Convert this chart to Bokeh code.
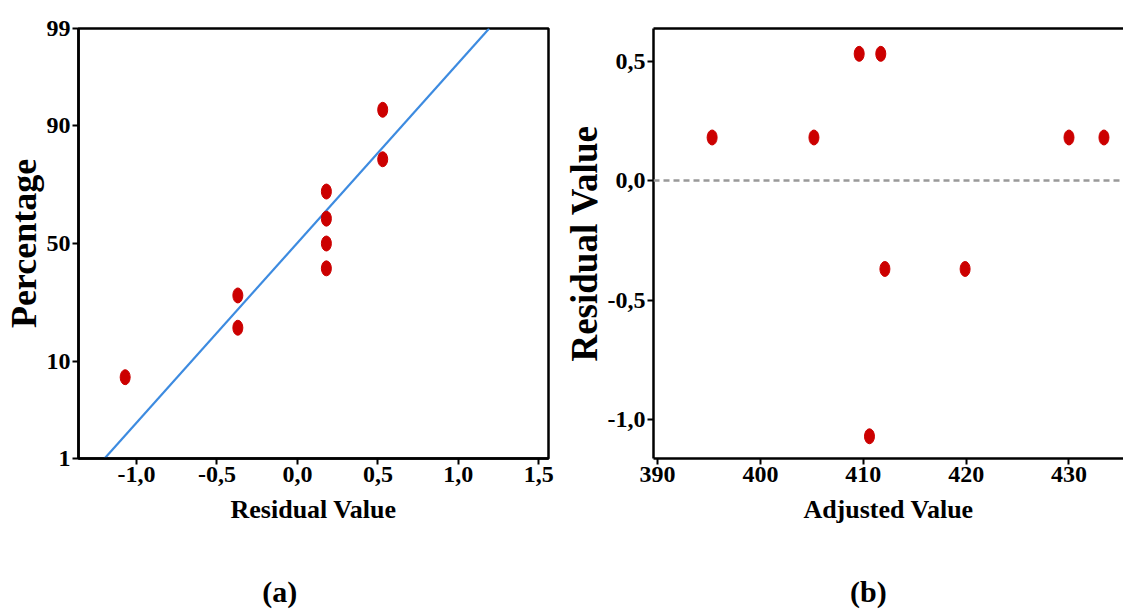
from statistics import NormalDist, mean, stdev

from bokeh.embed import file_html
from bokeh.layouts import row
from bokeh.models import CustomJSTickFormatter, FixedTicker, LinearAxis, Span
from bokeh.plotting import figure
from bokeh.resources import INLINE

# ---- data -------------------------------------------------------------
# (a) normal probability plot: ordered residuals and their plotting percentages
residual_sorted = [-1.07, -0.37, -0.37, 0.18, 0.18, 0.18, 0.18, 0.53, 0.53]
percentage = [7.4, 18.1, 28.7, 39.4, 50.0, 60.6, 71.3, 81.9, 92.6]
pct_ticks = [1, 10, 50, 90, 99]
resid_ticks = [-1.0, -0.5, 0.0, 0.5, 1.0, 1.5]

# (b) residuals versus adjusted (fitted) values
adjusted = [395.3, 405.2, 409.6, 411.7, 410.6, 412.1, 419.9, 430.0, 433.4]
residual = [0.18, 0.18, 0.53, 0.53, -1.07, -0.37, -0.37, 0.18, 0.18]
adj_ticks = [390, 400, 410, 420, 430, 440]
res_ticks = [-1.0, -0.5, 0.0, 0.5]

# ---- styling ------------------------------------------------------------
FONT = "Liberation Serif"
RED = "#CC0000"
BLUE = "#3D8BE0"

nd = NormalDist()


def probit(p):
    return nd.inv_cdf(p / 100.0)


comma_fmt = CustomJSTickFormatter(code="return tick.toFixed(1).replace('.', ',');")


def style_axis(ax, label_size):
    ax.axis_line_color = "black"
    ax.axis_line_width = 2.5
    ax.major_tick_line_color = "black"
    ax.major_tick_line_width = 2
    ax.major_tick_out = 6
    ax.major_tick_in = 0
    ax.minor_tick_line_color = None
    ax.major_label_text_font = FONT
    ax.major_label_text_font_style = "bold"
    ax.major_label_text_font_size = "24px"
    ax.major_label_text_color = "black"
    ax.major_label_standoff = 2
    ax.axis_label_text_font = FONT
    ax.axis_label_text_font_style = "bold"
    ax.axis_label_text_font_size = label_size
    ax.axis_label_text_color = "black"


def panel_tag(fig, text, x):
    # caption such as "(a)" set under the x-axis title, centred on data x
    cap = LinearAxis(ticker=FixedTicker(ticks=[x]),
                     formatter=CustomJSTickFormatter(code=f"return '{text}';"),
                     axis_line_color=None, major_tick_line_color=None,
                     minor_tick_line_color=None,
                     major_label_standoff=42,
                     major_label_text_font=FONT,
                     major_label_text_font_style="bold",
                     major_label_text_font_size="30px",
                     major_label_text_color="black")
    fig.add_layout(cap, "below")


# ---- (a) normal probability plot ---------------------------------------
z_lo, z_hi = probit(pct_ticks[0]), probit(pct_ticks[-1])
p1 = figure(width=560, height=615, x_range=(-1.36, 1.56), y_range=(z_lo, z_hi),
            output_backend="svg", toolbar_location=None,
            min_border_left=76, min_border_right=12,
            min_border_top=27, min_border_bottom=157)
p1.grid.visible = False
p1.outline_line_color = "black"
p1.outline_line_width = 2.5

# fitted normal line through mean +/- sd
mu, sd = mean(residual_sorted), stdev(residual_sorted)
p1.line([mu + sd * z_lo, mu + sd * z_hi], [z_lo, z_hi],
        line_color=BLUE, line_width=2.2)
p1.ellipse(residual_sorted, [probit(v) for v in percentage],
           width=10, height=15, width_units="screen", height_units="screen",
           fill_color=RED, line_color=RED)

p1.xaxis.ticker = FixedTicker(ticks=resid_ticks)
p1.xaxis.formatter = comma_fmt
p1.xaxis.axis_label = "Residual Value"
p1.xaxis.axis_label_standoff = 10
style_axis(p1.xaxis[0], "26px")

p1.yaxis.ticker = FixedTicker(ticks=[probit(v) for v in pct_ticks])
p1.yaxis.formatter = CustomJSTickFormatter(
    args=dict(zs=[probit(v) for v in pct_ticks], names=[str(v) for v in pct_ticks]),
    code="""
    let best = 0;
    for (let i = 1; i < zs.length; i++) {
        if (Math.abs(zs[i] - tick) < Math.abs(zs[best] - tick)) best = i;
    }
    return names[best];
    """)
p1.yaxis.axis_label = "Percentage"
p1.yaxis.axis_label_standoff = 0
style_axis(p1.yaxis[0], "36px")

panel_tag(p1, "(a)", -0.11)

# ---- (b) residuals versus adjusted values ------------------------------
p2 = figure(width=563, height=615, x_range=(389.6, 435.3), y_range=(-1.163, 0.636),
            output_backend="svg", toolbar_location=None,
            min_border_left=91, min_border_right=0,
            min_border_top=28, min_border_bottom=157)
p2.grid.visible = False
p2.outline_line_color = None

p2.add_layout(Span(location=0, dimension="width", line_color="#999999",
                   line_width=2.5, line_dash="6 4"))
p2.ellipse(adjusted, residual,
           width=10, height=15, width_units="screen", height_units="screen",
           fill_color=RED, line_color=RED)

p2.xaxis.ticker = FixedTicker(ticks=adj_ticks)
p2.xaxis.axis_label = "Adjusted Value"
p2.xaxis.axis_label_standoff = 10
style_axis(p2.xaxis[0], "26px")

p2.yaxis.ticker = FixedTicker(ticks=res_ticks)
p2.yaxis.formatter = comma_fmt
p2.yaxis.axis_label = "Residual Value"
p2.yaxis.axis_label_standoff = 0
style_axis(p2.yaxis[0], "37px")

top = LinearAxis(ticker=FixedTicker(ticks=[]), major_label_text_font_size="0px",
                 major_tick_line_color=None, minor_tick_line_color=None,
                 axis_line_color="black", axis_line_width=2.5)
p2.add_layout(top, "above")

panel_tag(p2, "(b)", 410.5)

layout = row(p1, p2)
open("out.html", "w").write(file_html(layout, INLINE))
